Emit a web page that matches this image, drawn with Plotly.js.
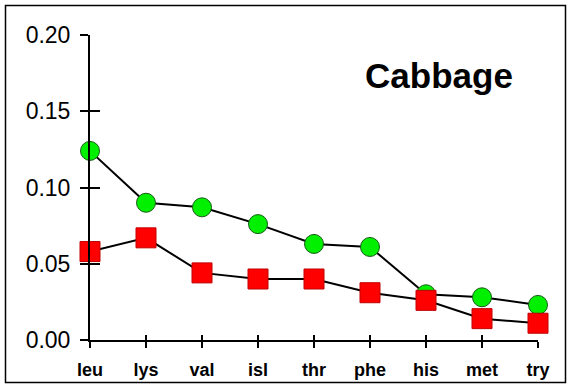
<!DOCTYPE html>
<html>
<head>
<meta charset="utf-8">
<script src="https://cdn.plot.ly/plotly-3.0.1.min.js"></script>
<style>
  html, body { margin: 0; padding: 0; background: #fff; }
  #chart { width: 571px; height: 388px; }
</style>
</head>
<body>
<div id="chart"></div>
<script>
const categories = ['leu', 'lys', 'val', 'isl', 'thr', 'phe', 'his', 'met', 'try'];
const greenValues = [0.124, 0.090, 0.087, 0.076, 0.063, 0.061, 0.030, 0.028, 0.023];
const redValues = [0.058, 0.067, 0.044, 0.040, 0.040, 0.031, 0.026, 0.014, 0.011];
const yTickVals = [0.00, 0.05, 0.10, 0.15, 0.20];
const yTickText = ['0.00', '0.05', '0.10', '0.15', '0.20'];
const chartTitle = 'Cabbage';

const FONT = 'Liberation Sans, Arial, sans-serif';
const W = 571, H = 388;
const M = { l: 90, r: 33, t: 35, b: 48 };
const pw = W - M.l - M.r, ph = H - M.t - M.b;
const px2x = p => (p - M.l) / pw;
const py2y = p => (H - M.b - p) / ph;

const traces = [
  {
    x: categories, y: greenValues, type: 'scatter', mode: 'lines+markers',
    line: { color: '#000', width: 2 },
    marker: { symbol: 'circle', size: 19, color: '#00f000', line: { color: '#1a5a1a', width: 1 } },
    cliponaxis: false, hoverinfo: 'skip', showlegend: false
  },
  {
    x: categories, y: redValues, type: 'scatter', mode: 'lines+markers',
    line: { color: '#000', width: 2 },
    marker: { symbol: 'square', size: 20, color: '#ff0000', line: { color: '#c00000', width: 1 } },
    cliponaxis: false, hoverinfo: 'skip', showlegend: false
  },
  { x: categories, y: redValues, xaxis: 'x2', yaxis: 'y2', type: 'scatter', mode: 'none',
    hoverinfo: 'skip', showlegend: false }
];

const layout = {
  width: W, height: H,
  margin: M,
  paper_bgcolor: '#fff', plot_bgcolor: '#fff',
  font: { family: FONT, color: '#000' },
  title: {
    text: chartTitle,
    font: { family: FONT, size: 35, color: '#000', weight: 'bold' },
    x: 439 / W, xref: 'container', xanchor: 'center',
    y: 1 - 76 / H, yref: 'container', yanchor: 'middle'
  },
  xaxis: {
    type: 'category', categoryorder: 'array', categoryarray: categories,
    range: [0, 8], showgrid: false, zeroline: false,
    showline: true, linecolor: '#000', linewidth: 2,
    ticks: 'outside', ticklen: 6, tickwidth: 2, tickcolor: '#000',
    ticklabelstandoff: 6,
    tickfont: { family: FONT, size: 18, color: '#000', weight: 'bold' },
    fixedrange: true
  },
  yaxis: {
    range: [0, 0.2], tickvals: yTickVals, ticktext: yTickText,
    showgrid: false, zeroline: false,
    showline: true, linecolor: '#000', linewidth: 2,
    ticks: 'outside', ticklen: 8, tickwidth: 2, tickcolor: '#000',
    ticklabelstandoff: 5,
    tickfont: { family: FONT, size: 23, color: '#000' },
    fixedrange: true
  },
  xaxis2: {
    type: 'category', categoryorder: 'array', categoryarray: categories,
    range: [0, 8], overlaying: 'x', anchor: 'y2', side: 'bottom',
    showgrid: false, zeroline: false, showline: false, showticklabels: false,
    ticks: 'inside', ticklen: 5, tickwidth: 2, tickcolor: '#000', fixedrange: true
  },
  yaxis2: {
    range: [0, 0.2], tickvals: yTickVals, overlaying: 'y', anchor: 'x2', side: 'left',
    showgrid: false, zeroline: false, showline: false, showticklabels: false,
    ticks: 'inside', ticklen: 10, tickwidth: 2, tickcolor: '#000', fixedrange: true
  },
  shapes: [{
    type: 'rect', xref: 'paper', yref: 'paper', layer: 'above',
    x0: px2x(5.5), x1: px2x(565.5), y0: py2y(382.5), y1: py2y(5.5),
    line: { color: '#000', width: 1.5 }, fillcolor: 'rgba(0,0,0,0)'
  }]
};

Plotly.newPlot('chart', traces, layout, { staticPlot: true, displayModeBar: false });
</script>
</body>
</html>
